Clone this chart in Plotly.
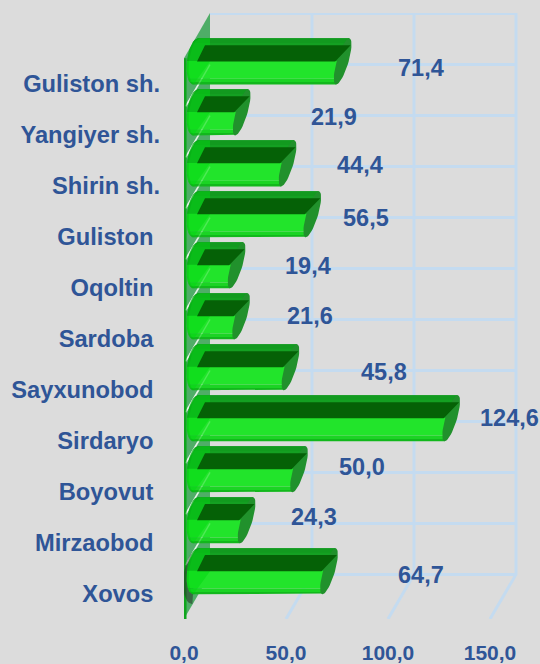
import numpy as np
import plotly.graph_objects as go

categories = ["Guliston sh.", "Yangiyer sh.", "Shirin sh.", "Guliston", "Oqoltin", "Sardoba",
              "Sayxunobod", "Sirdaryo", "Boyovut", "Mirzaobod", "Xovos"]
values = [71.4, 21.9, 44.4, 56.5, 19.4, 21.6, 45.8, 124.6, 50.0, 24.3, 64.7]
x_ticks = [0, 50, 100, 150]
x_tick_labels = ["0,0", "50,0", "100,0", "150,0"]

# Hand placement of the value labels, in pixels from the bar's front end
label_dx = [91, 105, 85, 67, 84, 82, 107, 71, 76, 80, 105]
label_dy = [16, 18, 21, 19, 22, 23, 18, 23, 25, 26, 19]

W, H = 540, 664
ML, MR, MT, MB = 184, 0, 13, 40
PLOT_H = 605                # rendered plot height in px
PX_X = 2.04                 # px per value unit
PX_Y = 50.9                 # px per category
n = len(categories)
XR = [0, (W - ML - MR) / PX_X]
YR = [-0.5, PLOT_H / PX_Y - 0.5]
DX = 26 / PX_X              # oblique depth
DY = 44.5 / PX_Y
HALF = 23 / PX_Y            # cylinder half height
SHEAR = 6.5 / PX_X
SHEAR_L = 2.5 / PX_X
LEFT = 11.5 / PX_X
ELL_L = 8.5 / PX_X
ELL_R = 6 / PX_X
ypos = [n - 1 - k for k in range(n)]
GRID = "#c4dbf0"
TXT = "#2f5597"
FONT = "Liberation Sans, Arial, sans-serif"

fig = go.Figure()


def poly(xs, ys, color, axes="main", line=None):
    kw = {} if axes == "main" else {"xaxis": "x2", "yaxis": "y2"}
    fig.add_trace(go.Scatter(x=xs, y=ys, mode="lines", fill="toself", fillcolor=color,
                             line=dict(width=0) if line is None else line,
                             hoverinfo="skip", showlegend=False, **kw))


def lines(xs, ys, color, width, axes="main"):
    kw = {} if axes == "main" else {"xaxis": "x2", "yaxis": "y2"}
    fig.add_trace(go.Scatter(x=xs, y=ys, mode="lines", line=dict(color=color, width=width),
                             hoverinfo="skip", showlegend=False, **kw))


# ---- back wall and floor grid (main subplot) ----
bottom = YR[0]
xs, ys = [], []
for t in x_ticks[1:]:
    xs += [t, t + DX, t + DX, None]
    ys += [bottom, bottom + DY, YR[1], None]
for k in range(n + 1):
    xs += [DX, x_ticks[-1] + DX, None]
    ys += [bottom + DY + k, bottom + DY + k, None]
lines(xs, ys, GRID, 3)

# left wall
poly([0, DX, DX, 0, 0], [bottom, bottom + DY, YR[1], bottom + n, bottom],
     "rgba(40,160,70,0.78)")
xs, ys = [], []
for k in range(1, n):
    xs += [0.8, DX, None]
    ys += [bottom + k + 0.8 * DY / DX, bottom + k + DY, None]
lines(xs, ys, "rgba(235,245,235,0.95)", 1.6)
lines([0.5, 0.5], [bottom, bottom + n], "#0ea51c", 3)
tt = np.linspace(-1, 1, 31)


# ---- cylinders (overlay subplot) ----
def left_edge(t):
    return LEFT + SHEAR_L * t - ELL_L * np.sqrt(np.clip(1 - t ** 2, 0, 1))


def band(v, i, t0, t1, right=None):
    """polygon for the slice t0..t1 (1 = top, -1 = bottom) of a cylinder"""
    t = np.linspace(t0, t1, 15)
    cy = i + DY / 2
    cx = v + DX / 2
    xl = left_edge(t)
    xr = cx + SHEAR * t if right is None else right(t)
    y = cy + HALF * t
    return list(xl) + list(xr[::-1]) + [xl[0], None], list(y) + list(y[::-1]) + [y[0], None]


def add_band(t0, t1, color, right=None):
    X, Y = [], []
    for v, i in zip(values, ypos):
        a, b = band(v, i, t0, t1, right)
        X += a
        Y += b
    poly(X, Y, color, "over")


fig.add_trace(go.Bar(x=values, y=[i + DY / 2 for i in ypos], base=DX / 2, width=2 * HALF * 0.5,
                     orientation="h",
                     marker=dict(color="#22e42b", line=dict(width=0)), xaxis="x2", yaxis="y2",
                     hoverinfo="skip", showlegend=False))

# dark shadow at the foot of the last bar
sx = list(LEFT + SHEAR_L * tt - (ELL_L + 3 / PX_X) * np.sqrt(1 - tt ** 2) - 0.3)
sy = list(ypos[-1] + DY / 2 + (HALF + 4 / PX_Y) * tt - 6 / PX_Y)
poly(sx + [LEFT, sx[0]], sy + [sy[-1], sy[0]], "rgba(40,50,40,0.55)", "over")

add_band(1.0, 0.0, "#14a022")
add_band(1.0, 0.8, "#129a1f")
add_band(0.02, -0.75, "#22e42b")
add_band(-0.75, -0.9, "#1bd424")
add_band(-0.9, -1.0, "#12b81c")

# more saturated left end, cut by the wall plane
add_band(1.0, -1.0, "rgba(0,215,15,0.5)",
         right=lambda t: np.minimum(DX / 2 + 13 / PX_X + 16.7 / PX_X * t, DX + 0.0))
# darker outer rim of the left end
add_band(1.0, -1.0, "rgba(0,120,15,0.14)", right=lambda t: left_edge(t) + 2 / PX_X)

# right caps
th = np.linspace(0, 2 * np.pi, 49)
X, Y = [], []
for v, i in zip(values, ypos):
    X += list(v + DX / 2 + SHEAR * np.sin(th) + ELL_R * np.cos(th)) + [None]
    Y += list(i + DY / 2 + HALF * np.sin(th)) + [None]
poly(X, Y, "#21912c", "over")

# groove on the upper side
X, Y = [], []
for v, i in zip(values, ypos):
    cy = i + DY / 2
    x_l0, x_l1 = DX / 2, DX / 2 + 8 / PX_X
    x_r0, x_r1 = v + DX / 2 - 7.5 / PX_X, v + DX / 2 + 8 / PX_X
    X += [x_l0, x_l1, x_r1, x_r0, x_l0, None]
    Y += [cy, cy + 0.7 * HALF, cy + 0.7 * HALF, cy, cy, None]
poly(X, Y, "#056106", "over")

# faint wall lines through the bars
xs, ys = [], []
for k in range(1, n):
    xs += [0.8, DX, None]
    ys += [bottom + k + 0.8 * DY / DX, bottom + k + DY, None]
lines(xs, ys, "rgba(235,255,235,0.22)", 1.4, "over")

annotations = [
    dict(x=v, y=i, xref="x", yref="y", text=f"{v:.1f}".replace(".", ","), showarrow=False,
         xshift=dx, yshift=dy, xanchor="center", yanchor="middle",
         font=dict(family=FONT, size=23.5, color=TXT, weight="bold"))
    for v, i, dx, dy in zip(values, ypos, label_dx, label_dy)
]

tick_text = [c if c.endswith(".") else c + "\u00a0" for c in categories]
base_axis = dict(showgrid=False, zeroline=False, showline=False, fixedrange=True)
fig.update_layout(
    width=W, height=H, margin=dict(l=ML, r=MR, t=MT, b=MB),
    paper_bgcolor="#dcdcdc", plot_bgcolor="#dcdcdc", showlegend=False,
    bargap=0, barmode="overlay",
    font=dict(family=FONT, size=20, color=TXT, weight="bold"),
    xaxis=dict(range=XR, tickmode="array", tickvals=x_ticks, ticktext=x_tick_labels, ticks="",
               ticklabelstandoff=19, tickangle=0, tickfont=dict(family=FONT, size=21, color=TXT, weight="bold"),
               **base_axis),
    yaxis=dict(range=YR, tickmode="array", tickvals=[i - 0.005 for i in ypos], ticktext=tick_text, ticks="",
               ticklabelstandoff=23, tickfont=dict(family=FONT, size=23.7, color=TXT, weight="bold"),
               **base_axis),
    xaxis2=dict(range=XR, overlaying="x", visible=False, fixedrange=True),
    yaxis2=dict(range=YR, overlaying="y", visible=False, fixedrange=True),
    annotations=annotations,
)
fig.write_html("out.html", config={"displayModeBar": False},
               post_script="document.body.style.margin='0';document.documentElement.style.overflow='hidden';document.documentElement.style.background='#dcdcdc';")
